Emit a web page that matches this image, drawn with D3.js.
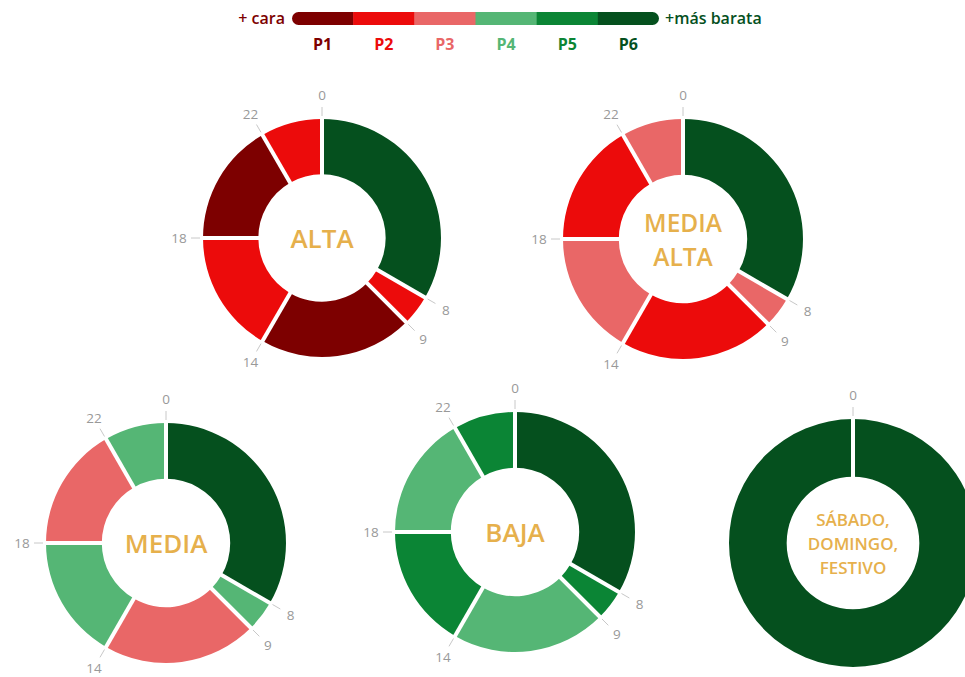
<!DOCTYPE html>
<html>
<head>
<meta charset="utf-8">
<script src="https://cdn.jsdelivr.net/npm/d3@7"></script>
<style>
  html, body { margin: 0; padding: 0; background: #fff; }
  svg { display: block; font-family: "Open Sans", "DejaVu Sans", sans-serif; }
</style>
</head>
<body>
<div id="vis"></div>
<script>
// Tariff periods by hour of day, one donut per season/zone (24h clock, 0 at top).

const PERIODS = ["P1", "P2", "P3", "P4", "P5", "P6"];
const PERIOD_COLORS = ["#7d0000", "#ec0b0b", "#e96767", "#55b675", "#0b8535", "#05501e"];

const WEEKDAY_HOURS = [0, 8, 9, 14, 18, 22, 24];
const HOLIDAY_HOURS = [0, 24];

const ZONE_NAMES = ["ALTA", "MEDIA ALTA", "MEDIA", "BAJA", "SÁBADO, DOMINGO, FESTIVO"];
const ALTA        = ["P6", "P2", "P1", "P2", "P1", "P2"];
const MEDIA_ALTA  = ["P6", "P3", "P2", "P3", "P2", "P3"];
const MEDIA       = ["P6", "P4", "P3", "P4", "P3", "P4"];
const BAJA        = ["P6", "P5", "P4", "P5", "P4", "P5"];
const FESTIVO     = ["P6"];

const ZONE_PERIODS = [ALTA, MEDIA_ALTA, MEDIA, BAJA, FESTIVO];
const ZONE_HOURS   = [WEEKDAY_HOURS, WEEKDAY_HOURS, WEEKDAY_HOURS, WEEKDAY_HOURS, HOLIDAY_HOURS];
const ZONE_LINES   = [["ALTA"], ["MEDIA", "ALTA"], ["MEDIA"], ["BAJA"], ["SÁBADO,", "DOMINGO,", "FESTIVO"]];

// ── Layout ───────────────────────────────────────────────────────────────────

const W = 965, H = 677;
const LAYOUT = [
  { cx: 322, cy: 238, r: 119, fs: 26,   lh: 32 },
  { cx: 683, cy: 239, r: 120, fs: 24.5, lh: 34 },
  { cx: 166, cy: 543, r: 120, fs: 26,   lh: 32 },
  { cx: 515, cy: 532, r: 120, fs: 26,   lh: 32 },
  { cx: 853, cy: 543, r: 124, fs: 17,   lh: 24 },
];
const INNER_FRAC = 0.535;
const LABEL_COLOR = "#e6b04c";

const svg = d3.select("#vis").append("svg").attr("width", W).attr("height", H);
svg.append("rect").attr("width", W).attr("height", H).attr("fill", "#fff");

const color = d3.scaleOrdinal().domain(PERIODS).range(PERIOD_COLORS);
const angle = d3.scaleLinear().domain([0, 24]).range([0, 2 * Math.PI]);

// ── Legend ───────────────────────────────────────────────────────────────────

const legX = d3.scaleBand().domain(PERIODS).range([292, 659]);
const legY = 12, legH = 13;

svg.append("clipPath").attr("id", "leg-clip")
  .append("rect").attr("x", legX.range()[0]).attr("y", legY)
  .attr("width", legX.range()[1] - legX.range()[0]).attr("height", legH)
  .attr("rx", legH / 2);

svg.append("g").attr("clip-path", "url(#leg-clip)")
  .selectAll("rect").data(PERIODS).join("rect")
    .attr("x", d => legX(d)).attr("y", legY)
    .attr("width", legX.bandwidth() + 0.5).attr("height", legH)
    .attr("fill", d => color(d));

svg.selectAll("text.per").data(PERIODS).join("text")
  .attr("class", "per")
  .attr("x", d => legX(d) + legX.bandwidth() / 2).attr("y", 50)
  .attr("text-anchor", "middle")
  .style("font-size", "16px").style("font-weight", 700)
  .style("fill", d => color(d))
  .text(d => d);

svg.append("text").attr("x", 285).attr("y", 24).attr("text-anchor", "end")
  .style("font-size", "16px").style("font-weight", 600).style("fill", PERIOD_COLORS[0])
  .text("+ cara");
svg.append("text").attr("x", 665).attr("y", 24)
  .style("font-size", "16px").style("font-weight", 600).style("fill", PERIOD_COLORS[5])
  .text("+más barata");

// ── Donuts ───────────────────────────────────────────────────────────────────

ZONE_NAMES.forEach((name, i) => {
  const { cx, cy, r, fs, lh } = LAYOUT[i];
  const ri = r * INNER_FRAC;
  const hours = ZONE_HOURS[i];
  const segs = ZONE_PERIODS[i].map((p, k) => ({ p, h0: hours[k], h1: hours[k + 1] }));
  const arc = d3.arc().innerRadius(ri).outerRadius(r);

  const g = svg.append("g").attr("transform", `translate(${cx},${cy})`);

  g.selectAll("path").data(segs).join("path")
    .attr("d", d => arc({ startAngle: angle(d.h0), endAngle: angle(d.h1) }))
    .attr("fill", d => color(d.p));

  const ticks = hours.slice(0, -1);
  const pt = (h, rad) => [Math.sin(angle(h)) * rad, -Math.cos(angle(h)) * rad];

  // white separators
  g.selectAll("line.sep").data(ticks).join("line")
    .attr("class", "sep")
    .attr("x1", h => pt(h, ri - 2)[0]).attr("y1", h => pt(h, ri - 2)[1])
    .attr("x2", h => pt(h, r + 2)[0]).attr("y2", h => pt(h, r + 2)[1])
    .attr("stroke", "#fff").attr("stroke-width", 4);

  // hour ticks + labels
  g.selectAll("line.tick").data(ticks).join("line")
    .attr("class", "tick")
    .attr("x1", h => pt(h, r + 3)[0]).attr("y1", h => pt(h, r + 3)[1])
    .attr("x2", h => pt(h, r + 12)[0]).attr("y2", h => pt(h, r + 12)[1])
    .attr("stroke", "#c8c8c8").attr("stroke-width", 1);

  g.selectAll("text.hr").data(ticks).join("text")
    .attr("class", "hr")
    .attr("x", h => pt(h, r + 24)[0]).attr("y", h => pt(h, r + 24)[1])
    .attr("text-anchor", "middle").attr("dominant-baseline", "central")
    .style("font-size", "13.5px").style("fill", "#999")
    .text(h => h);

  const lines = ZONE_LINES[i];
  g.selectAll("text.zone").data(lines).join("text")
    .attr("class", "zone")
    .attr("x", 0).attr("y", (d, k) => (k - (lines.length - 1) / 2) * lh)
    .attr("text-anchor", "middle").attr("dominant-baseline", "central")
    .style("font-size", fs + "px").style("font-weight", 600).style("fill", LABEL_COLOR)
    .text(d => d);
});
</script>
</body>
</html>
